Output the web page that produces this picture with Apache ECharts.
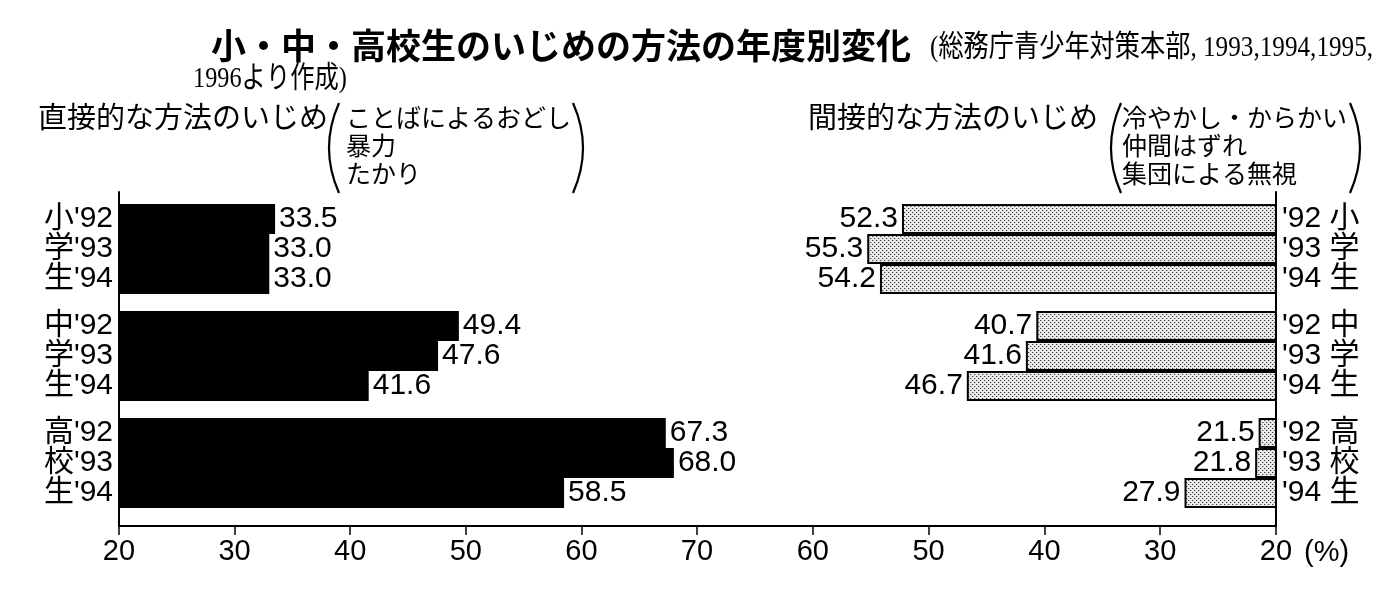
<!DOCTYPE html>
<html>
<head>
<meta charset="utf-8">
<script src="https://cdn.jsdelivr.net/npm/echarts@6/dist/echarts.min.js"></script>
<style>
html,body{margin:0;padding:0;background:#fff;}
#chart{width:1400px;height:600px;}
</style>
</head>
<body>
<div id="chart"></div>
<script>
// ---- data ----
const levels = ['小学生', '中学生', '高校生'];
const years = ["'92", "'93", "'94"];
const directValues = [
  [33.5, 33.0, 33.0],
  [49.4, 47.6, 41.6],
  [67.3, 68.0, 58.5]
];
const indirectValues = [
  [52.3, 55.3, 54.2],
  [40.7, 41.6, 46.7],
  [21.5, 21.8, 27.9]
];
const axisMin = 20;
const axisMax = 70;
const axisStep = 10;
const titleText = '小・中・高校生のいじめの方法の年度別変化';
const sourceLine1 = '(総務庁青少年対策本部, 1993,1994,1995,';
const sourceLine2 = '1996より作成)';
const directTitle = '直接的な方法のいじめ';
const directItems = ['ことばによるおどし', '暴力', 'たかり'];
const indirectTitle = '間接的な方法のいじめ';
const indirectItems = ['冷やかし・からかい', '仲間はずれ', '集団による無視'];
const unitText = '(%)';

// ---- styling ----
const FONT = "'Liberation Sans', 'Noto Sans CJK JP', sans-serif";
const CJK = "'Noto Sans CJK JP', sans-serif";
const SERIF = "'Liberation Serif', 'Noto Sans CJK JP', serif";

// stipple (dotted) pattern for indirect bars
const pat = document.createElement('canvas');
pat.width = 4; pat.height = 4;
(function(){
  const c = pat.getContext('2d');
  c.fillStyle = '#eaeaea'; c.fillRect(0,0,4,4);
  c.fillStyle = '#444444';
  [[0,0],[2,2]].forEach(p=>c.fillRect(p[0],p[1],1,1));
  c.fillStyle = '#b8b8b8';
  [[1,0],[3,2]].forEach(p=>c.fillRect(p[0],p[1],1,1));
})();

const leftX = 119, midX = 697, rightX = 1276;
const frameTop = 192, axisY = 526;
const groupTops = [204, 311, 418];
const groupH = 90;

const grids = [];
const xAxes = [];
const yAxes = [];
const series = [];

// frame grids (axes)
grids.push({left: leftX, top: frameTop, width: midX - leftX, height: axisY - frameTop, outerBoundsMode: 'none'});
grids.push({left: midX, top: frameTop, width: rightX - midX, height: axisY - frameTop, outerBoundsMode: 'none'});
const axisLineStyle = {color: '#000', width: 2};
[0, 1].forEach(i => {
  xAxes.push({
    gridIndex: i, type: 'value', min: axisMin, max: axisMax, interval: axisStep,
    inverse: i === 1,
    axisLine: {show: true, lineStyle: axisLineStyle},
    axisTick: {show: true, inside: false, length: 9, lineStyle: {color: '#000', width: 1.5}},
    axisLabel: {show: true, color: '#000', fontSize: 29, fontFamily: FONT, margin: 11,
      formatter: v => (i === 1 && v === axisMax) ? '' : String(v)},
    splitLine: {show: false}
  });
  yAxes.push({
    gridIndex: i, type: 'value', min: 0, max: 1, position: i === 0 ? 'left' : 'right',
    axisLine: {show: true, onZero: false, lineStyle: axisLineStyle},
    axisTick: {show: false}, axisLabel: {show: false}, splitLine: {show: false}
  });
});

// bar grids
levels.forEach((lv, g) => {
  // direct (left)
  let gi = grids.length;
  grids.push({left: leftX, top: groupTops[g], width: midX - leftX, height: groupH, outerBoundsMode: 'none'});
  xAxes.push({gridIndex: gi, type: 'value', min: axisMin, max: axisMax, show: false});
  yAxes.push({
    gridIndex: gi, type: 'category', data: years, inverse: true,
    axisLine: {show: false}, axisTick: {show: false}, splitLine: {show: false},
    axisLabel: {show: true, interval: 0, hideOverlap: false, color: '#000', fontSize: 30, fontFamily: FONT, margin: 6,
      formatter: (v, idx) => lv[idx] + v}
  });
  series.push({
    type: 'bar', xAxisIndex: xAxes.length - 1, yAxisIndex: yAxes.length - 1,
    data: directValues[g], barCategoryGap: '0%', clip: true,
    itemStyle: {color: '#000'},
    label: {show: true, position: 'right', distance: 4, color: '#000', fontSize: 30, fontFamily: FONT,
      formatter: p => p.value.toFixed(1)},
    labelLayout: {hideOverlap: false},
    animation: false
  });
  // indirect (right)
  gi = grids.length;
  grids.push({left: midX, top: groupTops[g], width: rightX - midX, height: groupH, outerBoundsMode: 'none'});
  xAxes.push({gridIndex: gi, type: 'value', min: axisMin, max: axisMax, inverse: true, show: false});
  yAxes.push({
    gridIndex: gi, type: 'category', data: years, inverse: true, position: 'right',
    axisLine: {show: false}, axisTick: {show: false}, splitLine: {show: false},
    axisLabel: {show: true, interval: 0, hideOverlap: false, color: '#000', fontSize: 30, fontFamily: FONT, margin: 6,
      formatter: (v, idx) => v + ' ' + lv[idx]}
  });
  series.push({
    type: 'bar', xAxisIndex: xAxes.length - 1, yAxisIndex: yAxes.length - 1,
    data: indirectValues[g], barCategoryGap: '0%', clip: true,
    itemStyle: {color: {image: pat, repeat: 'repeat'}, borderColor: '#000', borderWidth: 2},
    label: {show: true, position: 'left', distance: 4, color: '#000', fontSize: 30, fontFamily: FONT,
      formatter: p => p.value.toFixed(1)},
    labelLayout: {hideOverlap: false},
    animation: false
  });
});

function txt(text, x, y, size, opts) {
  opts = opts || {};
  return {
    type: 'text', x: x, y: y, scaleX: opts.scaleX || 1, z: 100,
    style: {text: text, fontSize: size, fontFamily: opts.family || CJK, fontWeight: opts.weight || 'normal',
      fill: '#000', align: opts.align || 'left', verticalAlign: 'middle'}
  };
}
function paren(x, y1, y2, dir) {
  return {
    type: 'bezierCurve', z: 100,
    shape: {x1: x, y1: y1, x2: x, y2: y2, cpx1: x + dir * 20, cpy1: (y1 + y2) / 2},
    style: {stroke: '#000', lineWidth: 2.2, fill: null}
  };
}

const graphics = [
  txt(titleText, 211, 46, 35, {weight: 'bold'}),
  txt(sourceLine1, 930, 48, 30, {family: SERIF, scaleX: 0.84}),
  txt(sourceLine2, 193, 79, 30, {family: SERIF, scaleX: 0.81}),
  txt(directTitle, 38, 117, 29),
  txt(indirectTitle, 808, 117, 29),
  paren(339, 103, 193, -1),
  paren(573, 103, 193, 1),
  paren(1121, 103, 193, -1),
  paren(1350, 103, 193, 1),
  txt(unitText, 1304, 553, 29, {family: FONT})
];
directItems.forEach((t, i) => graphics.push(txt(t, 346, 117 + i * 28, 25)));
indirectItems.forEach((t, i) => graphics.push(txt(t, 1122, 117 + i * 28, 25)));

const chart = echarts.init(document.getElementById('chart'), null, {renderer: 'canvas'});
chart.setOption({
  backgroundColor: '#fff',
  animation: false,
  grid: grids,
  xAxis: xAxes,
  yAxis: yAxes,
  series: series,
  graphic: {elements: graphics}
});
</script>
</body>
</html>
